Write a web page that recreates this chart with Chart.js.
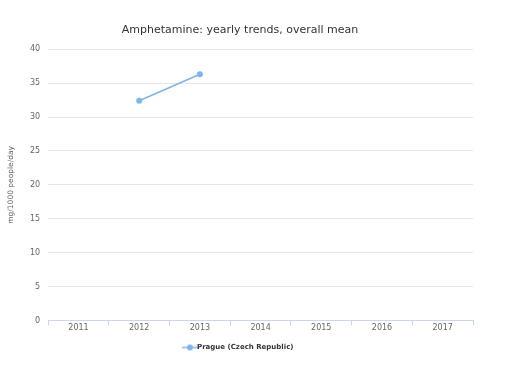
<!DOCTYPE html>
<html>
<head>
<meta charset="utf-8">
<script src="https://cdn.jsdelivr.net/npm/chart.js@4/dist/chart.umd.min.js"></script>
<style>
  html, body { margin: 0; padding: 0; background: #fff; }
  #wrap { width: 482px; height: 370px; }
</style>
</head>
<body>
<div id="wrap"><canvas id="chart" width="482" height="370"></canvas></div>
<script>
  // chart data
  const years = ['2011', '2012', '2013', '2014', '2015', '2016', '2017'];
  const pragueValues = [null, 32.4, 36.3, null, null, null, null];
  const yTicks = [0, 5, 10, 15, 20, 25, 30, 35, 40];

  const seriesColor = '#7cb5ec';
  const fontFamily = '"DejaVu Sans", "Lucida Grande", Arial, sans-serif';

  // legend symbol: short line with a dot, highcharts style
  function legendSymbol() {
    const c = document.createElement('canvas');
    c.width = 16; c.height = 8;
    const g = c.getContext('2d');
    g.strokeStyle = seriesColor;
    g.lineWidth = 1.5;
    g.beginPath();
    g.moveTo(0, 4); g.lineTo(16, 4);
    g.stroke();
    g.fillStyle = seriesColor;
    g.beginPath();
    g.arc(8, 4, 3, 0, Math.PI * 2);
    g.fill();
    return c;
  }

  const ctx = document.getElementById('chart').getContext('2d');
  new Chart(ctx, {
    type: 'line',
    data: {
      labels: years,
      datasets: [{
        label: 'Prague (Czech Republic)',
        data: pragueValues,
        borderColor: seriesColor,
        backgroundColor: seriesColor,
        borderWidth: 1.5,
        pointRadius: 3,
        pointBackgroundColor: seriesColor,
        pointBorderWidth: 0,
        pointStyle: 'circle',
        spanGaps: false,
        tension: 0
      }]
    },
    options: {
      responsive: false,
      animation: false,
      layout: { padding: { left: 7, right: 9, top: 24, bottom: 9 } },
      plugins: {
        title: {
          display: true,
          text: 'Amphetamine: yearly trends, overall mean',
          color: '#333333',
          font: { family: fontFamily, size: 11, weight: 'normal' },
          padding: { top: 0, bottom: 12 }
        },
        legend: {
          position: 'bottom',
          labels: {
            usePointStyle: true,
            pointStyle: legendSymbol(),
            color: '#333333',
            font: { family: fontFamily, size: 7, weight: 'bold' },
            padding: 12
          }
        },
        tooltip: { enabled: false }
      },
      scales: {
        x: {
          offset: true,
          afterFit: axis => { axis.height = 11.5; },
          grid: {
            offset: true,
            drawOnChartArea: false,
            drawTicks: true,
            tickLength: 5,
            color: '#ccd6eb'
          },
          border: { color: '#ccd6eb' },
          ticks: {
            color: '#666666',
            font: { family: fontFamily, size: 8 },
            padding: -2,
            maxRotation: 0
          }
        },
        y: {
          min: 0,
          max: 40,
          afterBuildTicks: axis => { axis.ticks = yTicks.map(v => ({ value: v })); },
          grid: { color: '#e6e6e6', drawTicks: false },
          border: { display: false },
          ticks: {
            color: '#666666',
            font: { family: fontFamily, size: 8 },
            padding: 8
          },
          title: {
            display: true,
            text: 'mg/1000 people/day',
            color: '#666666',
            font: { family: fontFamily, size: 7.5 },
            padding: { top: 0, bottom: 6 }
          }
        }
      }
    }
  });
</script>
</body>
</html>
